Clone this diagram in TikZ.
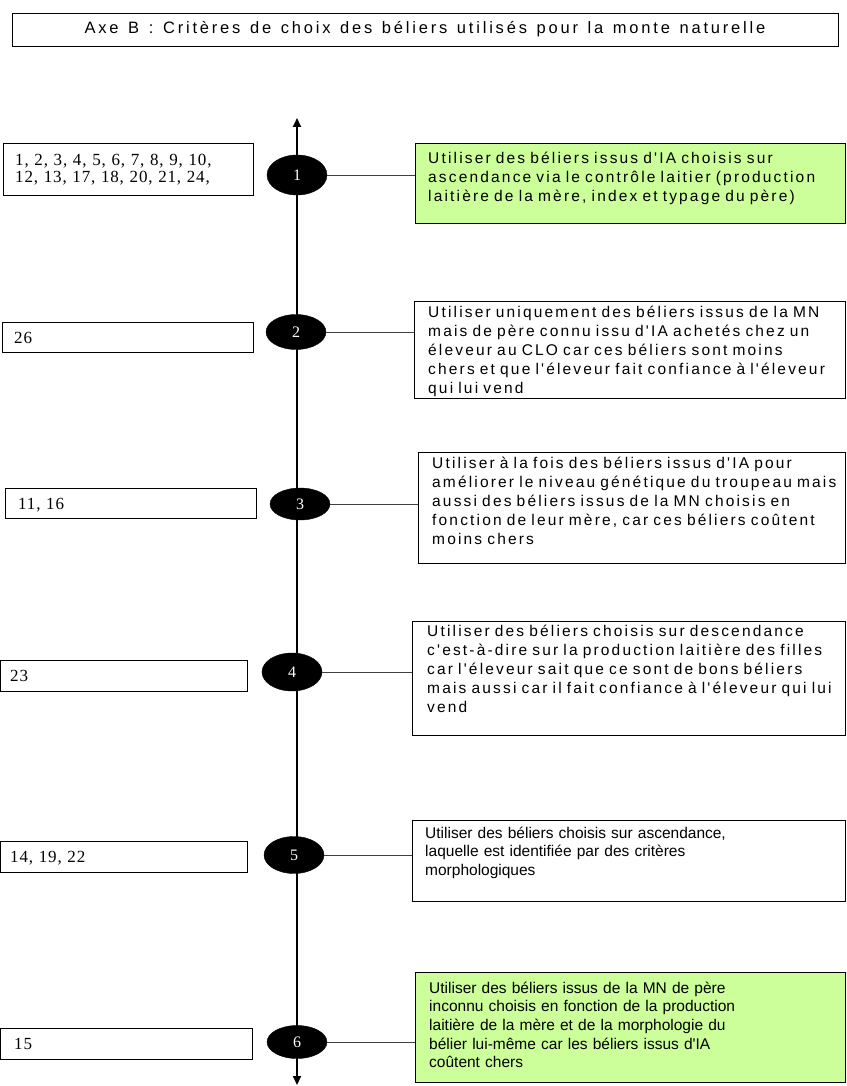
\documentclass[tikz,border=0pt]{standalone}
\usepackage{fontspec}
\setmainfont{Liberation Serif}
\newfontfamily\rfont[LetterSpace=14,WordSpace=1.4]{Liberation Sans}
\newfontfamily\rfontb{Liberation Sans}
\newfontfamily\tfont[LetterSpace=17,WordSpace=1.3]{Liberation Sans}
\newfontfamily\lfont[LetterSpace=5]{Liberation Serif}
\usetikzlibrary{shapes.geometric,arrows.meta}
\definecolor{boxgreen}{HTML}{CCFF99}
\tikzset{
  frame/.style={draw=black, line width=0.9pt, rectangle, inner sep=0pt},
  rtext/.style={anchor=north west, inner sep=0pt, align=left, text width=425pt,
    font={\rfont\fontsize{15.5}{19}\selectfont}},
  rtextb/.style={anchor=north west, inner sep=0pt, align=left, text width=425pt,
    font={\rfontb\fontsize{15.5}{18.6}\selectfont}},
  ltext/.style={anchor=north west, inner sep=0pt, align=left, text width=240pt,
    font={\lfont\fontsize{17}{17}\selectfont}},
  num/.style={ellipse, fill=black, draw=black, inner sep=0pt, text=white,
    font={\fontsize{16}{16}\selectfont}},
  axisline/.style={line width=1.8pt, {Triangle[length=9pt,width=8pt]}-{Triangle[length=9pt,width=8pt]}},
  conn/.style={line width=0.8pt, draw=black!75},
}
\newcommand{\strR}{\rule{0pt}{14pt}}
\newcommand{\strL}{\rule{0pt}{13pt}}
\begin{document}
\begin{tikzpicture}[x=1pt,y=-1pt]
\useasboundingbox (0,0) rectangle (846,1086);
% title
\node[frame, minimum width=826pt, minimum height=33pt, font={\tfont\fontsize{16.5}{18}\selectfont}] (title) at (425,29.5) {Axe B : Critères de choix des béliers utilisés pour la monte naturelle};
% axis
\coordinate (top) at (297,118);
\coordinate (bot) at (297,1085);
\draw[axisline] (bot) -- (top);
% right boxes
\node[frame, fill=boxgreen, minimum width=430pt, minimum height=80pt] (r1) at (630,183) {};
\node[frame, fill=white, minimum width=431pt, minimum height=97pt] (r2) at (629.5,349.5) {};
\node[frame, fill=white, minimum width=427pt, minimum height=111pt] (r3) at (631.5,507.5) {};
\node[frame, fill=white, minimum width=433pt, minimum height=114pt] (r4) at (628.5,678) {};
\node[frame, fill=white, minimum width=433pt, minimum height=81pt] (r5) at (628.5,860.5) {};
\node[frame, fill=boxgreen, minimum width=430pt, minimum height=110pt] (r6) at (630,1027) {};
\node[rtext] (t1) at (428,149) {\strR Utiliser des béliers issus d'IA choisis sur\\ascendance via le contrôle laitier (production\\laitière de la mère, index et typage du père)};
\node[rtext] (t2) at (428,303) {\strR Utiliser uniquement des béliers issus de la MN\\mais de père connu issu d'IA achetés chez un\\éleveur au CLO car ces béliers sont moins\\chers et que l'éleveur fait confiance à l'éleveur\\qui lui vend};
\node[rtext] (t3) at (432,454) {\strR Utiliser à la fois des béliers issus d'IA pour\\améliorer le niveau génétique du troupeau mais\\aussi des béliers issus de la MN choisis en\\fonction de leur mère, car ces béliers coûtent\\moins chers};
\node[rtext] (t4) at (427,622) {\strR Utiliser des béliers choisis sur descendance\\c'est-à-dire sur la production laitière des filles\\car l'éleveur sait que ce sont de bons béliers\\mais aussi car il fait confiance à l'éleveur qui lui\\vend};
\node[rtextb] (t5) at (425,824) {\strR Utiliser des béliers choisis sur ascendance,\\laquelle est identifiée par des critères\\morphologiques};
\node[rtextb] (t6) at (429,979) {\strR Utiliser des béliers issus de la MN de père\\inconnu choisis en fonction de la production\\laitière de la mère et de la morphologie du\\bélier lui-même car les béliers issus d'IA\\coûtent chers};
% left boxes
\node[frame, minimum width=250pt, minimum height=52pt] (l1) at (128,169) {};
\node[frame, minimum width=251pt, minimum height=30pt] (l2) at (127.5,337) {};
\node[frame, minimum width=251pt, minimum height=30pt] (l3) at (130.5,503) {};
\node[frame, minimum width=247pt, minimum height=31pt] (l4) at (124,675.5) {};
\node[frame, minimum width=247pt, minimum height=31pt] (l5) at (124,856.5) {};
\node[frame, minimum width=252pt, minimum height=31pt] (l6) at (126.5,1043.5) {};
\node[ltext] (n1) at (15,152) {\strL 1, 2, 3, 4, 5, 6, 7, 8, 9, 10,\\12, 13, 17, 18, 20, 21, 24,};
\node[ltext] (n2) at (14,330) {\strL 26};
\node[ltext] (n3) at (18,496) {\strL 11, 16};
\node[ltext] (n4) at (10,668) {\strL 23};
\node[ltext] (n5) at (10,849) {\strL 14, 19, 22};
\node[ltext] (n6) at (14,1036) {\strL 15};
% ellipses
\node[num, minimum width=60pt, minimum height=40pt] (e1) at (297,175) {1};
\node[num, minimum width=60pt, minimum height=35pt] (e2) at (296,332) {2};
\node[num, minimum width=60pt, minimum height=32pt] (e3) at (300,504) {3};
\node[num, minimum width=60pt, minimum height=38pt] (e4) at (292,672) {4};
\node[num, minimum width=60pt, minimum height=37pt] (e5) at (294,855) {5};
\node[num, minimum width=60pt, minimum height=33pt] (e6) at (297,1042) {6};
% connectors
\draw[conn] (e1.east) -- (e1.east -| r1.west);
\draw[conn] (e2.east) -- (e2.east -| r2.west);
\draw[conn] (e3.east) -- (e3.east -| r3.west);
\draw[conn] (e4.east) -- (e4.east -| r4.west);
\draw[conn] (e5.east) -- (e5.east -| r5.west);
\draw[conn] (e6.east) -- (e6.east -| r6.west);
\end{tikzpicture}
\end{document}
